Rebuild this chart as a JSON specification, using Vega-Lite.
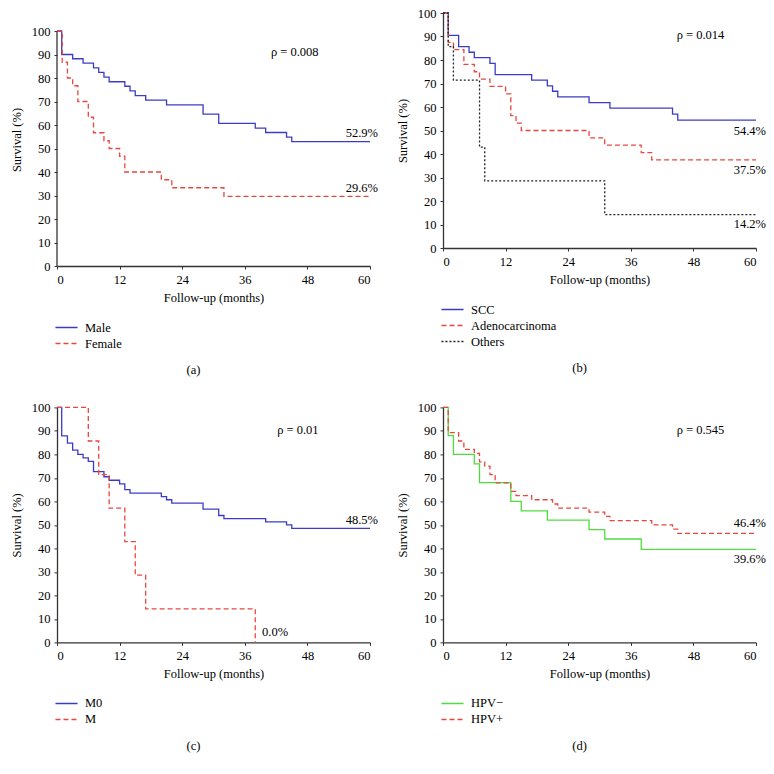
{
  "$schema": "https://vega.github.io/schema/vega-lite/v6.json",
  "background": "white",
  "padding": {"left": 10, "top": 7, "right": 5, "bottom": 5},
  "bounds": "flush",
  "columns": 2,
  "spacing": {"row": 141.4, "column": 73},
  "resolve": {
    "scale": {"color": "independent", "strokeDash": "independent", "x": "independent", "y": "independent"},
    "legend": {"color": "independent", "strokeDash": "independent"}
  },
  "datasets": {
    "a": [
      {"g": "Male", "t": 0, "s": 100}, {"g": "Male", "t": 0.9, "s": 90}, {"g": "Male", "t": 3, "s": 88.2},
      {"g": "Male", "t": 5, "s": 86.3}, {"g": "Male", "t": 7, "s": 84.3}, {"g": "Male", "t": 8, "s": 82.4},
      {"g": "Male", "t": 9, "s": 80.4}, {"g": "Male", "t": 10, "s": 78.4}, {"g": "Male", "t": 13, "s": 76.5},
      {"g": "Male", "t": 14, "s": 74.5}, {"g": "Male", "t": 15, "s": 72.5}, {"g": "Male", "t": 17, "s": 70.6},
      {"g": "Male", "t": 21, "s": 68.6}, {"g": "Male", "t": 28, "s": 64.6}, {"g": "Male", "t": 31, "s": 60.7},
      {"g": "Male", "t": 38, "s": 58.7}, {"g": "Male", "t": 40, "s": 56.8}, {"g": "Male", "t": 44, "s": 54.8},
      {"g": "Male", "t": 45, "s": 52.9}, {"g": "Male", "t": 60, "s": 52.9},
      {"g": "Female", "t": 0, "s": 100}, {"g": "Female", "t": 1, "s": 86.7}, {"g": "Female", "t": 2, "s": 80},
      {"g": "Female", "t": 3, "s": 76.7}, {"g": "Female", "t": 4, "s": 70}, {"g": "Female", "t": 6, "s": 63.3},
      {"g": "Female", "t": 7, "s": 56.7}, {"g": "Female", "t": 9, "s": 53.3}, {"g": "Female", "t": 10, "s": 50},
      {"g": "Female", "t": 12, "s": 46.7}, {"g": "Female", "t": 13, "s": 40}, {"g": "Female", "t": 20, "s": 36.7},
      {"g": "Female", "t": 22, "s": 33.3}, {"g": "Female", "t": 32, "s": 29.6}, {"g": "Female", "t": 60, "s": 29.6}
    ],
    "b": [
      {"g": "SCC", "t": 0, "s": 100}, {"g": "SCC", "t": 1, "s": 90.5}, {"g": "SCC", "t": 3, "s": 85.7},
      {"g": "SCC", "t": 5, "s": 83.3}, {"g": "SCC", "t": 6, "s": 81}, {"g": "SCC", "t": 9, "s": 78.6},
      {"g": "SCC", "t": 10, "s": 73.8}, {"g": "SCC", "t": 17, "s": 71.4}, {"g": "SCC", "t": 20, "s": 69},
      {"g": "SCC", "t": 21, "s": 66.7}, {"g": "SCC", "t": 22, "s": 64.3}, {"g": "SCC", "t": 28, "s": 61.9},
      {"g": "SCC", "t": 32, "s": 59.5}, {"g": "SCC", "t": 44, "s": 57}, {"g": "SCC", "t": 45, "s": 54.4},
      {"g": "SCC", "t": 60, "s": 54.4},
      {"g": "Adenocarcinoma", "t": 0, "s": 100}, {"g": "Adenocarcinoma", "t": 1, "s": 87.5},
      {"g": "Adenocarcinoma", "t": 2, "s": 84.4}, {"g": "Adenocarcinoma", "t": 4, "s": 78.1},
      {"g": "Adenocarcinoma", "t": 6, "s": 75}, {"g": "Adenocarcinoma", "t": 7, "s": 71.9},
      {"g": "Adenocarcinoma", "t": 9, "s": 68.8}, {"g": "Adenocarcinoma", "t": 12, "s": 65.6},
      {"g": "Adenocarcinoma", "t": 13, "s": 56.3}, {"g": "Adenocarcinoma", "t": 14, "s": 53.1},
      {"g": "Adenocarcinoma", "t": 15, "s": 50}, {"g": "Adenocarcinoma", "t": 28, "s": 46.9},
      {"g": "Adenocarcinoma", "t": 31, "s": 43.8}, {"g": "Adenocarcinoma", "t": 38, "s": 40.6},
      {"g": "Adenocarcinoma", "t": 40, "s": 37.5}, {"g": "Adenocarcinoma", "t": 60, "s": 37.5},
      {"g": "Others", "t": 0, "s": 100}, {"g": "Others", "t": 1, "s": 85.7}, {"g": "Others", "t": 2, "s": 71.4},
      {"g": "Others", "t": 7, "s": 42.9}, {"g": "Others", "t": 8, "s": 28.6}, {"g": "Others", "t": 31, "s": 14.2},
      {"g": "Others", "t": 60, "s": 14.2}
    ],
    "c": [
      {"g": "M0", "t": 0, "s": 100}, {"g": "M0", "t": 0.9, "s": 87.9}, {"g": "M0", "t": 2, "s": 84.8},
      {"g": "M0", "t": 3, "s": 81.8}, {"g": "M0", "t": 4, "s": 80}, {"g": "M0", "t": 5, "s": 78.5},
      {"g": "M0", "t": 6, "s": 77}, {"g": "M0", "t": 7, "s": 72.7}, {"g": "M0", "t": 9, "s": 70.5},
      {"g": "M0", "t": 10, "s": 69}, {"g": "M0", "t": 12, "s": 67.5}, {"g": "M0", "t": 13, "s": 65},
      {"g": "M0", "t": 14, "s": 63.5}, {"g": "M0", "t": 20, "s": 62}, {"g": "M0", "t": 21, "s": 60.7},
      {"g": "M0", "t": 22, "s": 59.3}, {"g": "M0", "t": 28, "s": 56.7}, {"g": "M0", "t": 31, "s": 54},
      {"g": "M0", "t": 32, "s": 52.7}, {"g": "M0", "t": 40, "s": 51.3}, {"g": "M0", "t": 44, "s": 50},
      {"g": "M0", "t": 45, "s": 48.5}, {"g": "M0", "t": 60, "s": 48.5},
      {"g": "M", "t": 0, "s": 100}, {"g": "M", "t": 6, "s": 85.7}, {"g": "M", "t": 8, "s": 71.4},
      {"g": "M", "t": 10, "s": 57.1}, {"g": "M", "t": 13, "s": 42.9}, {"g": "M", "t": 15, "s": 28.6},
      {"g": "M", "t": 17, "s": 14.3}, {"g": "M", "t": 38, "s": 0}
    ],
    "d": [
      {"g": "HPV−", "t": 0, "s": 100}, {"g": "HPV−", "t": 1, "s": 88}, {"g": "HPV−", "t": 2, "s": 80},
      {"g": "HPV−", "t": 6, "s": 76}, {"g": "HPV−", "t": 7, "s": 68}, {"g": "HPV−", "t": 13, "s": 60},
      {"g": "HPV−", "t": 15, "s": 56}, {"g": "HPV−", "t": 20, "s": 52}, {"g": "HPV−", "t": 28, "s": 48},
      {"g": "HPV−", "t": 31, "s": 44}, {"g": "HPV−", "t": 38, "s": 39.6}, {"g": "HPV−", "t": 60, "s": 39.6},
      {"g": "HPV+", "t": 0, "s": 100}, {"g": "HPV+", "t": 1, "s": 89.3}, {"g": "HPV+", "t": 3, "s": 85.7},
      {"g": "HPV+", "t": 4, "s": 82.1}, {"g": "HPV+", "t": 6, "s": 80.4}, {"g": "HPV+", "t": 7, "s": 76.8},
      {"g": "HPV+", "t": 8, "s": 75}, {"g": "HPV+", "t": 9, "s": 71.4}, {"g": "HPV+", "t": 10, "s": 67.9},
      {"g": "HPV+", "t": 13, "s": 64.3}, {"g": "HPV+", "t": 14, "s": 62.5}, {"g": "HPV+", "t": 17, "s": 60.7},
      {"g": "HPV+", "t": 21, "s": 58.9}, {"g": "HPV+", "t": 22, "s": 57.1}, {"g": "HPV+", "t": 28, "s": 55.4},
      {"g": "HPV+", "t": 31, "s": 53.6}, {"g": "HPV+", "t": 32, "s": 51.8}, {"g": "HPV+", "t": 40, "s": 50},
      {"g": "HPV+", "t": 44, "s": 48.2}, {"g": "HPV+", "t": 45, "s": 46.4}, {"g": "HPV+", "t": 60, "s": 46.4}
    ],
    "la": [
      {"t": 41, "s": 91, "label": "ρ = 0.008", "side": "L"},
      {"t": 60, "s": 56.5, "label": "52.9%", "side": "R"},
      {"t": 60, "s": 33.1, "label": "29.6%", "side": "R"}
    ],
    "lb": [
      {"t": 44.8, "s": 90.8, "label": "ρ = 0.014", "side": "L"},
      {"t": 60, "s": 50, "label": "54.4%", "side": "R"},
      {"t": 60, "s": 33, "label": "37.5%", "side": "R"},
      {"t": 60, "s": 10.3, "label": "14.2%", "side": "R"}
    ],
    "lc": [
      {"t": 42.2, "s": 90.5, "label": "ρ = 0.01", "side": "L"},
      {"t": 60, "s": 52, "label": "48.5%", "side": "R"},
      {"t": 39.3, "s": 4.5, "label": "0.0%", "side": "L"}
    ],
    "ld": [
      {"t": 44.8, "s": 90.5, "label": "ρ = 0.545", "side": "L"},
      {"t": 60, "s": 50.6, "label": "46.4%", "side": "R"},
      {"t": 60, "s": 35.3, "label": "39.6%", "side": "R"}
    ],
    "axa": [{"t": 0, "lo": 0, "hi": 100}]
  },
  "concat": [
    {
      "width": 313, "height": 253,
      "title": {"text": "(a)", "orient": "bottom", "offset": 14, "dx": -20},
      "layer": [
        {"data": {"name": "axa"}, "mark": {"type": "rule", "color": "#333333", "strokeWidth": 1.3},
         "encoding": {"x": {"field": "t", "type": "quantitative"}, "y": {"field": "lo", "type": "quantitative"}, "y2": {"field": "hi"}}},
        {"data": {"name": "a"}, "mark": {"type": "line", "interpolate": "step-after", "strokeWidth": 1.3},
         "encoding": {
           "x": {"field": "t", "type": "quantitative", "scale": {"domain": [0, 60], "nice": false}, "axis": {"values": [0, 12, 24, 36, 48, 60], "tickCount": 12, "title": "Follow-up (months)"}},
           "y": {"field": "s", "type": "quantitative", "scale": {"domain": [0, 107.66], "nice": false}, "axis": {"values": [0, 10, 20, 30, 40, 50, 60, 70, 80, 90, 100], "tickCount": 12, "labelOverlap": false, "title": "Survival (%)", "domain": false}},
           "color": {"field": "g", "type": "nominal", "sort": null, "scale": {"domain": ["Male", "Female"], "range": ["#3b3bc6", "#e8473d"]},
             "legend": {"orient": "none", "legendX": 0, "legendY": 305, "title": null}},
           "strokeDash": {"field": "g", "type": "nominal", "sort": null, "scale": {"domain": ["Male", "Female"], "range": [[1, 0], [5, 3]]}}
         }},
        {"data": {"name": "la"}, "transform": [{"filter": "datum.side == 'R'"}],
         "mark": {"type": "text", "align": "right", "dx": 8, "fontSize": 12.5, "color": "#000000"},
         "encoding": {"x": {"field": "t", "type": "quantitative"}, "y": {"field": "s", "type": "quantitative"}, "text": {"field": "label"}}},
        {"data": {"name": "la"}, "transform": [{"filter": "datum.side == 'L'"}],
         "mark": {"type": "text", "align": "left", "fontSize": 12.5, "color": "#000000"},
         "encoding": {"x": {"field": "t", "type": "quantitative"}, "y": {"field": "s", "type": "quantitative"}, "text": {"field": "label"}}}
      ]
    },
    {
      "width": 313, "height": 235,
      "title": {"text": "(b)", "orient": "bottom", "offset": 14, "dx": -20},
      "layer": [
        {"data": {"name": "b"}, "mark": {"type": "line", "interpolate": "step-after", "strokeWidth": 1.3},
         "encoding": {
           "x": {"field": "t", "type": "quantitative", "scale": {"domain": [0, 60], "nice": false}, "axis": {"values": [0, 12, 24, 36, 48, 60], "tickCount": 12, "title": "Follow-up (months)"}},
           "y": {"field": "s", "type": "quantitative", "scale": {"domain": [0, 100], "nice": false}, "axis": {"values": [0, 10, 20, 30, 40, 50, 60, 70, 80, 90, 100], "tickCount": 12, "labelOverlap": false, "title": "Survival (%)"}},
           "color": {"field": "g", "type": "nominal", "sort": null, "scale": {"domain": ["SCC", "Adenocarcinoma", "Others"], "range": ["#3b3bc6", "#e8473d", "#222222"]},
             "legend": {"orient": "none", "legendX": 0, "legendY": 287, "title": null}},
           "strokeDash": {"field": "g", "type": "nominal", "sort": null, "scale": {"domain": ["SCC", "Adenocarcinoma", "Others"], "range": [[1, 0], [5, 3], [2, 2]]}}
         }},
        {"data": {"name": "lb"}, "transform": [{"filter": "datum.side == 'R'"}],
         "mark": {"type": "text", "align": "right", "dx": 10, "fontSize": 12.5, "color": "#000000"},
         "encoding": {"x": {"field": "t", "type": "quantitative"}, "y": {"field": "s", "type": "quantitative"}, "text": {"field": "label"}}},
        {"data": {"name": "lb"}, "transform": [{"filter": "datum.side == 'L'"}],
         "mark": {"type": "text", "align": "left", "fontSize": 12.5, "color": "#000000"},
         "encoding": {"x": {"field": "t", "type": "quantitative"}, "y": {"field": "s", "type": "quantitative"}, "text": {"field": "label"}}}
      ]
    },
    {
      "width": 313, "height": 235,
      "title": {"text": "(c)", "orient": "bottom", "offset": 14, "dx": -20},
      "layer": [
        {"data": {"name": "c"}, "mark": {"type": "line", "interpolate": "step-after", "strokeWidth": 1.3},
         "encoding": {
           "x": {"field": "t", "type": "quantitative", "scale": {"domain": [0, 60], "nice": false}, "axis": {"values": [0, 12, 24, 36, 48, 60], "tickCount": 12, "title": "Follow-up (months)"}},
           "y": {"field": "s", "type": "quantitative", "scale": {"domain": [0, 100], "nice": false}, "axis": {"values": [0, 10, 20, 30, 40, 50, 60, 70, 80, 90, 100], "tickCount": 12, "labelOverlap": false, "title": "Survival (%)"}},
           "color": {"field": "g", "type": "nominal", "sort": null, "scale": {"domain": ["M0", "M"], "range": ["#3b3bc6", "#e8473d"]},
             "legend": {"orient": "none", "legendX": 0, "legendY": 286.5, "title": null}},
           "strokeDash": {"field": "g", "type": "nominal", "sort": null, "scale": {"domain": ["M0", "M"], "range": [[1, 0], [5, 3]]}}
         }},
        {"data": {"name": "lc"}, "transform": [{"filter": "datum.side == 'R'"}],
         "mark": {"type": "text", "align": "right", "dx": 8, "fontSize": 12.5, "color": "#000000"},
         "encoding": {"x": {"field": "t", "type": "quantitative"}, "y": {"field": "s", "type": "quantitative"}, "text": {"field": "label"}}},
        {"data": {"name": "lc"}, "transform": [{"filter": "datum.side == 'L'"}],
         "mark": {"type": "text", "align": "left", "fontSize": 12.5, "color": "#000000"},
         "encoding": {"x": {"field": "t", "type": "quantitative"}, "y": {"field": "s", "type": "quantitative"}, "text": {"field": "label"}}}
      ]
    },
    {
      "width": 313, "height": 235,
      "title": {"text": "(d)", "orient": "bottom", "offset": 14, "dx": -20},
      "layer": [
        {"data": {"name": "d"}, "mark": {"type": "line", "interpolate": "step-after", "strokeWidth": 1.3},
         "encoding": {
           "x": {"field": "t", "type": "quantitative", "scale": {"domain": [0, 60], "nice": false}, "axis": {"values": [0, 12, 24, 36, 48, 60], "tickCount": 12, "title": "Follow-up (months)"}},
           "y": {"field": "s", "type": "quantitative", "scale": {"domain": [0, 100], "nice": false}, "axis": {"values": [0, 10, 20, 30, 40, 50, 60, 70, 80, 90, 100], "tickCount": 12, "labelOverlap": false, "title": "Survival (%)"}},
           "color": {"field": "g", "type": "nominal", "sort": null, "scale": {"domain": ["HPV−", "HPV+"], "range": ["#4fdc3f", "#e8473d"]},
             "legend": {"orient": "none", "legendX": 0, "legendY": 286.5, "title": null}},
           "strokeDash": {"field": "g", "type": "nominal", "sort": null, "scale": {"domain": ["HPV−", "HPV+"], "range": [[1, 0], [5, 3]]}}
         }},
        {"data": {"name": "ld"}, "transform": [{"filter": "datum.side == 'R'"}],
         "mark": {"type": "text", "align": "right", "dx": 10, "fontSize": 12.5, "color": "#000000"},
         "encoding": {"x": {"field": "t", "type": "quantitative"}, "y": {"field": "s", "type": "quantitative"}, "text": {"field": "label"}}},
        {"data": {"name": "ld"}, "transform": [{"filter": "datum.side == 'L'"}],
         "mark": {"type": "text", "align": "left", "fontSize": 12.5, "color": "#000000"},
         "encoding": {"x": {"field": "t", "type": "quantitative"}, "y": {"field": "s", "type": "quantitative"}, "text": {"field": "label"}}}
      ]
    }
  ],
  "config": {
    "view": {"stroke": null},
    "font": "Times New Roman, Liberation Serif, serif",
    "text": {"font": "Times New Roman, Liberation Serif, serif"},
    "title": {"font": "Times New Roman, Liberation Serif, serif", "fontSize": 12.5, "fontWeight": "normal", "color": "#000000"},
    "axis": {
      "labelFont": "Times New Roman, Liberation Serif, serif", "labelFontSize": 12.5, "labelColor": "#000000", "labelOverlap": false,
      "titleFont": "Times New Roman, Liberation Serif, serif", "titleFontSize": 12.5, "titleFontWeight": "normal", "titleColor": "#000000",
      "domainColor": "#333333", "domainWidth": 1.3, "tickColor": "#333333", "tickSize": 3, "tickWidth": 1,
      "grid": false, "labelPadding": 4
    },
    "axisX": {"titlePadding": 6},
    "axisY": {"titlePadding": 8},
    "legend": {
      "symbolType": "M-1.3,0H1.3", "symbolSize": 289, "symbolStrokeWidth": 1.5,
      "labelFont": "Times New Roman, Liberation Serif, serif", "labelFontSize": 12.5, "labelColor": "#000000",
      "labelOffset": 9, "rowPadding": 0, "padding": 0
    }
  }
}
